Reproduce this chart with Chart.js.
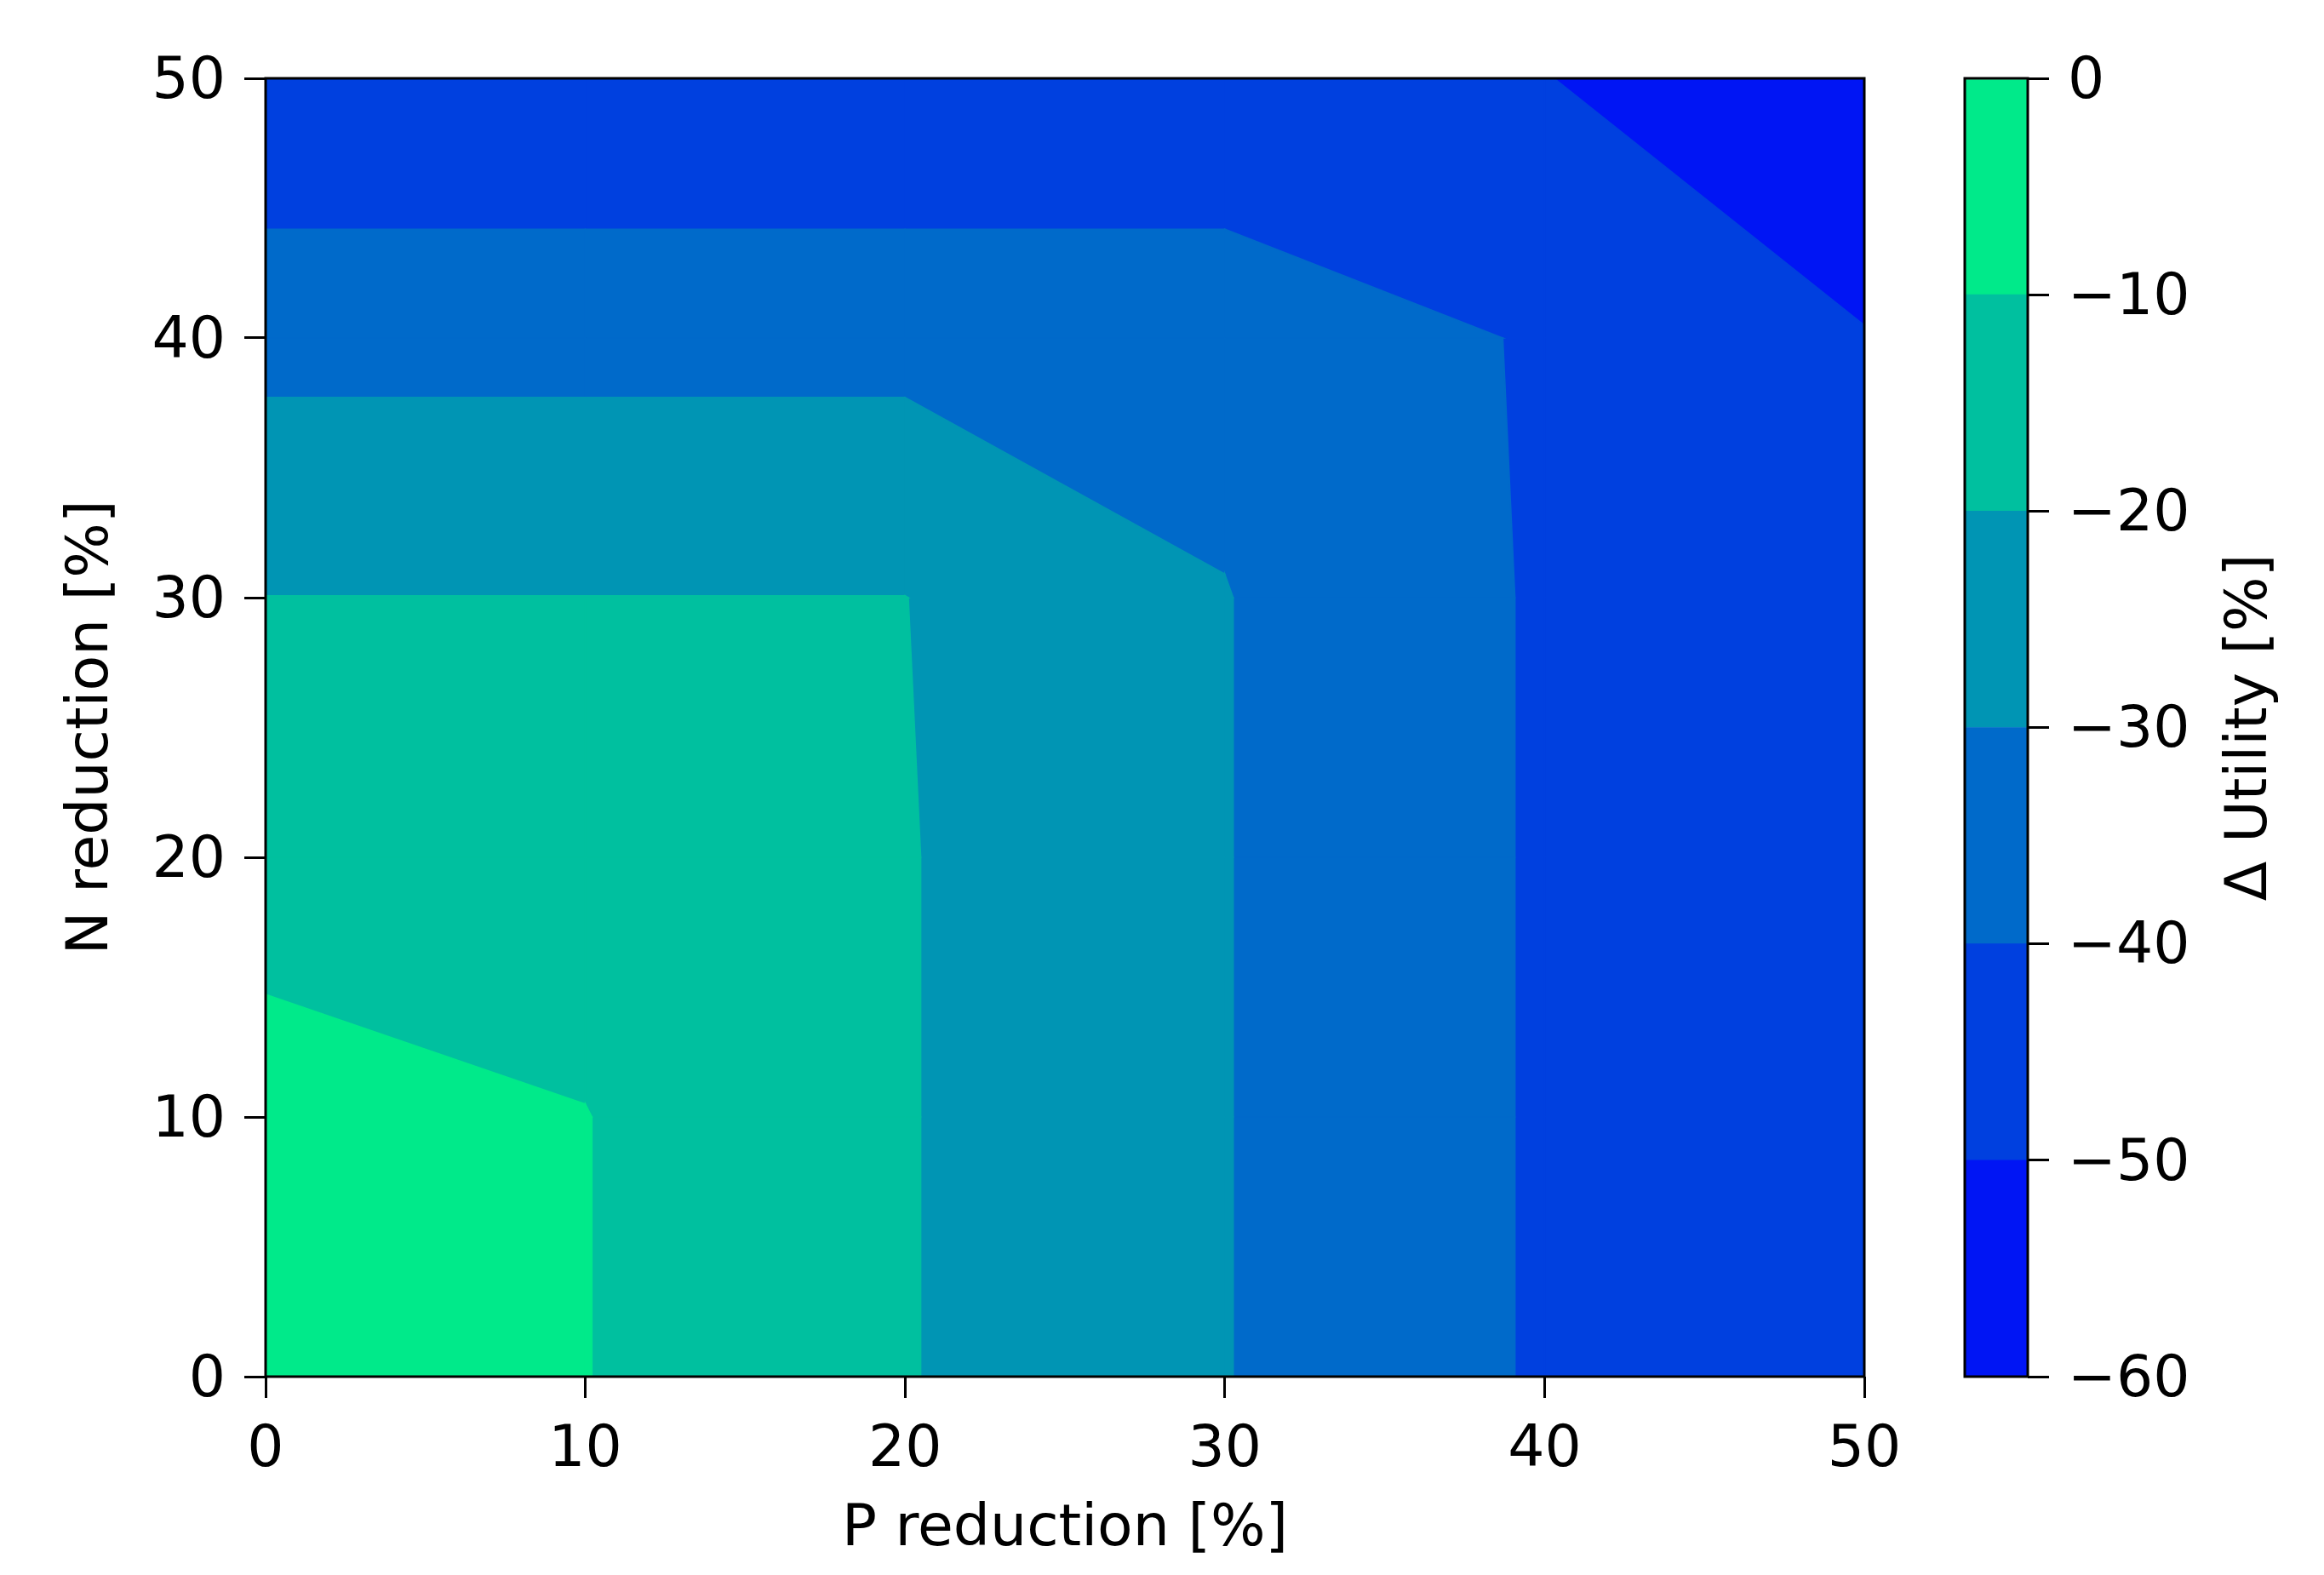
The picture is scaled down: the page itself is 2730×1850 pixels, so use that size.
<!DOCTYPE html>
<html>
<head>
<meta charset="utf-8">
<script src="https://cdn.jsdelivr.net/npm/chart.js@4.4.1/dist/chart.umd.min.js"></script>
<style>
  html, body { margin: 0; padding: 0; background: #fff; }
  #wrap { position: relative; width: 2730px; height: 1850px; }
  #contour { position: absolute; left: 0; top: 0; }
  #colorbar { position: absolute; left: 2250px; top: 0; }
</style>
</head>
<body>
<div id="wrap">
  <canvas id="contour" width="2730" height="1850"></canvas>
  <canvas id="colorbar" width="480" height="1850"></canvas>
</div>
<script>
const pReduction = [0, 10, 20, 30, 40, 50];
const nReduction = [0, 10, 20, 30, 40, 50];
// change in utility [%] on the grid: one row per N reduction, one column per P reduction
const utility = [
  [0,     -9.8,  -19.5, -29.7, -41.05, -49.5],
  [-6.6,  -9.8,  -19.5, -29.7, -41.05, -49.5],
  [-13.8, -13.8, -19.5, -29.7, -41.05, -49.5],
  [-19.9, -19.9, -19.9, -29.7, -41.05, -49.5],
  [-33,   -33,   -33,   -33,   -41.05, -49.5],
  [-49.7, -49.7, -49.7, -49.7, -49.7,  -59.7]
];
const levels = [-60, -50, -40, -30, -20, -10, 0];
const axisTicks = [0, 10, 20, 30, 40, 50];

// winter colormap, sampled at the middle of each band
const bandColors = ['rgb(0,21,244)', 'rgb(0,64,223)', 'rgb(0,106,202)',
                    'rgb(0,149,180)', 'rgb(0,192,159)', 'rgb(0,234,138)'];

Chart.defaults.font.family = '"DejaVu Sans", sans-serif';
Chart.defaults.font.size = 68;
Chart.defaults.color = '#000';

// part of one grid cell where utility >= level (marching squares, linear edges)
function cellPolygon(i, j, level) {
  const corners = [[i, j], [i + 1, j], [i + 1, j + 1], [i, j + 1]];
  const pts = [];
  for (let k = 0; k < 4; k++) {
    const [ci, cj] = corners[k];
    const [ni, nj] = corners[(k + 1) % 4];
    const v0 = utility[cj][ci], v1 = utility[nj][ni];
    if (v0 >= level) pts.push({x: pReduction[ci], y: nReduction[cj]});
    if ((v0 >= level) !== (v1 >= level)) {
      const t = (level - v0) / (v1 - v0);
      pts.push({
        x: pReduction[ci] + t * (pReduction[ni] - pReduction[ci]),
        y: nReduction[cj] + t * (nReduction[nj] - nReduction[cj])
      });
    }
  }
  if (pts.length) pts.push({x: pts[0].x, y: pts[0].y});
  return pts;
}

// paint each level over the one below it
const datasets = [];
levels.slice(0, -1).forEach((level, k) => {
  for (let j = 0; j < nReduction.length - 1; j++) {
    for (let i = 0; i < pReduction.length - 1; i++) {
      const pts = cellPolygon(i, j, level);
      if (pts.length < 4) continue;
      datasets.push({
        data: pts,
        fill: 'shape',
        backgroundColor: bandColors[k],
        borderColor: bandColors[k],
        borderWidth: 1.5,
        pointRadius: 0,
        pointHoverRadius: 0,
        tension: 0,
        order: levels.length - k
      });
    }
  }
});

const frame = {
  id: 'frame',
  afterDatasetsDraw(chart) {
    const {ctx, chartArea: a} = chart;
    ctx.save();
    ctx.strokeStyle = '#000';
    ctx.lineWidth = 3;
    ctx.strokeRect(a.left, a.top, a.right - a.left, a.bottom - a.top);
    ctx.restore();
  }
};

const tickGrid = { drawOnChartArea: false, drawTicks: true, tickLength: 25, color: '#000', lineWidth: 3 };

new Chart(document.getElementById('contour'), {
  type: 'line',
  data: { datasets: datasets },
  options: {
    responsive: false,
    animation: false,
    events: [],
    layout: { padding: { left: 68, top: 92, right: 540, bottom: 12 } },
    plugins: { legend: { display: false }, tooltip: { enabled: false } },
    scales: {
      x: {
        type: 'linear', min: 0, max: 50,
        afterBuildTicks: s => { s.ticks = axisTicks.map(v => ({ value: v })); },
        afterFit: s => { s.height = 221; },
        grid: tickGrid,
        border: { display: false },
        ticks: { padding: 22, maxRotation: 0, autoSkip: false },
        title: { display: true, text: 'P reduction [%]', padding: 0 }
      },
      y: {
        type: 'linear', min: 0, max: 50,
        afterBuildTicks: s => { s.ticks = axisTicks.map(v => ({ value: v })); },
        afterFit: s => { s.width = 244; },
        grid: tickGrid,
        border: { display: false },
        ticks: { padding: 22, autoSkip: false, labelOffset: 5 },
        title: { display: true, text: 'N reduction [%]', padding: 0 }
      }
    }
  },
  plugins: [frame]
});

const colorbarTitle = {
  id: 'colorbarTitle',
  afterDraw(chart) {
    const {ctx, chartArea: a} = chart;
    ctx.save();
    ctx.translate(a.right + 262, (a.top + a.bottom) / 2);
    ctx.rotate(-Math.PI / 2);
    ctx.font = '68px "DejaVu Sans"';
    ctx.fillStyle = '#000';
    ctx.textAlign = 'center';
    ctx.textBaseline = 'middle';
    ctx.fillText('\u0394 Utility [%]', 0, 0);
    ctx.restore();
  }
};

new Chart(document.getElementById('colorbar'), {
  type: 'bar',
  data: {
    labels: [''],
    datasets: bandColors.map((c, k) => ({
      data: [[levels[k], levels[k + 1]]],
      backgroundColor: c,
      borderWidth: 0,
      grouped: false,
      barPercentage: 1,
      categoryPercentage: 1
    }))
  },
  options: {
    responsive: false,
    animation: false,
    events: [],
    layout: { padding: { left: 58, top: 92, right: 0, bottom: 233 } },
    plugins: { legend: { display: false }, tooltip: { enabled: false } },
    scales: {
      x: { display: false },
      y: {
        position: 'right', min: levels[0], max: levels[levels.length - 1],
        afterBuildTicks: s => { s.ticks = levels.map(v => ({ value: v })); },
        afterFit: s => { s.width = 348; },
        grid: tickGrid,
        border: { display: false },
        ticks: {
          padding: 22, autoSkip: false, labelOffset: 5,
          callback: v => v < 0 ? '\u2212' + (-v) : String(v)
        }
      }
    }
  },
  plugins: [frame, colorbarTitle]
});
</script>
</body>
</html>
